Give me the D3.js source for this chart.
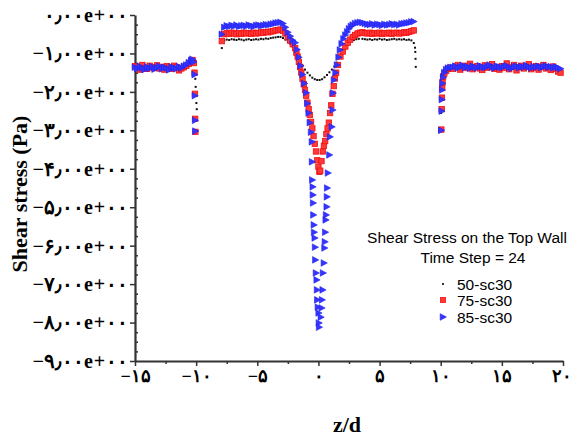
<!DOCTYPE html>
<html><head><meta charset="utf-8">
<script src="https://cdn.jsdelivr.net/npm/d3@7/dist/d3.min.js"></script>
<style>body{margin:0;background:#fff}svg{display:block}</style>
</head><body>
<svg id="c" width="572" height="437"></svg>
<script>
// ---------- DATA ----------
const seriesNames = ["50-sc30", "75-sc30", "85-sc30"];
const legendTitle = ["Shear Stress on the Top Wall", "Time Step = 24"];
const xTicks = [-15, -10, -5, 0, 5, 10, 15, 20];
const xTickLabels = ["−۱۵", "−۱۰", "−۵", "۰", "۵", "۱۰", "۱۵", "۲۰"];
const yTicks = [0, -1, -2, -3, -4, -5, -6, -7, -8, -9];
const yTickLabels = ["۰٫۰۰e+۰۰", "−۱٫۰۰e+۰۰", "−۲٫۰۰e+۰۰", "−۳٫۰۰e+۰۰", "−۴٫۰۰e+۰۰",
  "−۵٫۰۰e+۰۰", "−۶٫۰۰e+۰۰", "−۷٫۰۰e+۰۰", "−۸٫۰۰e+۰۰", "−۹٫۰۰e+۰۰"];

// upstream region (shared z)
const zLeft = [-15.0,-14.8,-14.6,-14.4,-14.2,-14.0,-13.8,-13.6,-13.4,-13.2,-13.0,-12.8,-12.6,-12.4,-12.2,-12.0,-11.8,-11.6,-11.4,-11.2,-11.0,-10.8,-10.6,-10.4,-10.3,-10.2];
const left50 = [-1.39,-1.38,-1.40,-1.38,-1.39,-1.40,-1.38,-1.39,-1.40,-1.38,-1.39,-1.38,-1.40,-1.39,-1.38,-1.40,-1.39,-1.38,-1.39,-1.40,-1.37,-1.34,-1.28,-1.22,-1.20,-1.28];
const left75 = [-1.33,-1.37,-1.42,-1.30,-1.38,-1.40,-1.32,-1.36,-1.38,-1.31,-1.39,-1.35,-1.42,-1.33,-1.37,-1.40,-1.32,-1.36,-1.44,-1.39,-1.36,-1.32,-1.27,-1.20,-1.17,-1.25];
const left85 = [-1.36,-1.40,-1.33,-1.38,-1.42,-1.35,-1.39,-1.34,-1.41,-1.37,-1.33,-1.40,-1.36,-1.38,-1.43,-1.35,-1.37,-1.40,-1.34,-1.38,-1.33,-1.30,-1.24,-1.18,-1.15,-1.22];

// drop at z ≈ -10
const dropLZ50 = [-10.1,-10.07,-10.04,-10.01,-9.98,-9.95];
const dropL50 = [-1.50,-1.66,-1.87,-2.08,-2.29,-2.45];
const dropLZ75 = [-10.13,-10.1,-10.08,-10.06];
const dropL75 = [-1.50,-2.05,-2.70,-3.04];
const dropLZ85 = [-10.12,-10.1,-10.08,-10.06];
const dropL85 = [-1.55,-2.10,-2.74,-3.02];

// middle region, left flat part (shared z)
const zMidL = [-7.9,-7.7,-7.5,-7.3,-7.1,-6.9,-6.7,-6.5,-6.3,-6.1,-5.9,-5.7,-5.5,-5.3,-5.1,-4.9,-4.7,-4.5,-4.3,-4.1,-3.9,-3.7,-3.5,-3.3,-3.1,-2.9,-2.7,-2.5,-2.3,-2.1];
const midL50 = [-0.86,-0.66,-0.64,-0.65,-0.63,-0.64,-0.65,-0.63,-0.64,-0.66,-0.64,-0.63,-0.65,-0.64,-0.63,-0.64,-0.62,-0.63,-0.61,-0.62,-0.60,-0.59,-0.58,-0.57,-0.57,-0.60,-0.64,-0.69,-0.75,-0.83];
const midL75 = [-0.68,-0.50,-0.47,-0.49,-0.46,-0.48,-0.50,-0.47,-0.49,-0.46,-0.48,-0.47,-0.49,-0.46,-0.48,-0.47,-0.45,-0.46,-0.44,-0.45,-0.43,-0.42,-0.40,-0.39,-0.38,-0.41,-0.48,-0.58,-0.67,-0.76];
const midL85 = [-0.50,-0.32,-0.28,-0.30,-0.27,-0.29,-0.26,-0.30,-0.28,-0.27,-0.29,-0.26,-0.28,-0.30,-0.27,-0.26,-0.28,-0.27,-0.25,-0.26,-0.24,-0.23,-0.21,-0.20,-0.19,-0.22,-0.32,-0.45,-0.55,-0.66];

// central dip (per series)
const dipZ50 = [-1.9,-1.7,-1.5,-1.3,-1.1,-0.9,-0.7,-0.5,-0.3,-0.1,0.1,0.3,0.5,0.7,0.9,1.1,1.3,1.5,1.7,1.9,2.1,2.3,2.5,2.7,2.9,3.1,3.3];
const dip50 = [-0.95,-1.08,-1.20,-1.32,-1.42,-1.50,-1.57,-1.63,-1.67,-1.69,-1.69,-1.67,-1.62,-1.56,-1.49,-1.42,-1.34,-1.24,-1.10,-0.97,-0.87,-0.79,-0.72,-0.68,-0.65,-0.63,-0.62];
const dipZ75 = [-1.9,-1.8,-1.7,-1.6,-1.5,-1.4,-1.3,-1.2,-1.1,-1.0,-0.9,-0.8,-0.7,-0.6,-0.5,-0.4,-0.3,-0.2,-0.1,0.0,0.08,0.15,0.25,0.35,0.45,0.55,0.65,0.75,0.85,0.95,1.05,1.15,1.25,1.35,1.45,1.6,1.8,2.0,2.2,2.4,2.6,2.8,3.0,3.2,3.4];
const dip75 = [-0.86,-0.98,-1.08,-1.22,-1.35,-1.50,-1.66,-1.80,-1.95,-2.10,-2.28,-2.45,-2.60,-2.78,-2.95,-3.15,-3.35,-3.55,-3.78,-3.95,-4.08,-4.05,-3.80,-3.55,-3.40,-3.28,-3.10,-2.95,-2.80,-2.55,-2.35,-2.05,-1.85,-1.65,-1.50,-1.30,-1.08,-0.95,-0.82,-0.72,-0.64,-0.57,-0.52,-0.48,-0.46];
const dipZ85 = [-1.9,-1.75,-1.6,-1.45,-1.3,-1.15,-1.0,-0.9,-0.8,-0.7,-0.6,-0.53,-0.52,-0.5,-0.46,-0.45,-0.43,-0.41,-0.37,-0.35,-0.3,-0.27,-0.25,-0.2,-0.14,-0.11,-0.09,-0.04,0.02,0.04,0.06,0.2,0.27,0.3,0.35,0.38,0.45,0.5,0.53,0.56,0.6,0.63,0.68,0.7,0.72,0.78,0.9,0.95,1.1,1.17,1.2,1.27,1.4,1.52,1.65,1.76,1.9,2.05,2.2,2.35,2.5,2.65,2.8,3.0,3.2,3.4];
const dip85 = [-0.72,-0.90,-1.10,-1.32,-1.55,-1.78,-2.02,-2.30,-2.55,-2.80,-3.05,-3.30,-3.82,-4.29,-4.47,-4.68,-4.89,-5.20,-5.46,-5.65,-5.80,-6.04,-6.37,-6.71,-6.89,-7.15,-7.41,-7.60,-7.75,-8.01,-8.12,-7.86,-7.62,-7.41,-7.15,-6.71,-6.45,-6.06,-5.90,-5.65,-5.33,-5.20,-4.99,-4.73,-4.50,-4.11,-3.64,-3.17,-2.91,-2.47,-2.03,-1.69,-1.50,-1.30,-1.10,-0.91,-0.75,-0.62,-0.52,-0.44,-0.36,-0.30,-0.26,-0.22,-0.20,-0.19];

// middle region, right flat part (shared z)
const zMidR = [3.6,3.8,4.0,4.2,4.4,4.6,4.8,5.0,5.2,5.4,5.6,5.8,6.0,6.2,6.4,6.6,6.8,7.0,7.2,7.4,7.6,7.8];
const midR50 = [-0.62,-0.63,-0.64,-0.63,-0.65,-0.63,-0.64,-0.62,-0.64,-0.63,-0.65,-0.64,-0.63,-0.62,-0.64,-0.63,-0.64,-0.63,-0.65,-0.64,-0.66,-0.73];
const midR75 = [-0.45,-0.47,-0.48,-0.46,-0.49,-0.47,-0.48,-0.46,-0.49,-0.47,-0.48,-0.46,-0.49,-0.47,-0.46,-0.48,-0.47,-0.45,-0.46,-0.44,-0.42,-0.40];
const midR85 = [-0.20,-0.22,-0.24,-0.25,-0.23,-0.26,-0.24,-0.25,-0.27,-0.24,-0.26,-0.25,-0.23,-0.25,-0.24,-0.26,-0.23,-0.22,-0.21,-0.20,-0.18,-0.17];

// drop at z ≈ 7.9 (black only visible)
const dropRZ50 = [7.9,7.92,7.94,7.96];
const dropR50 = [-0.85,-0.96,-1.14,-1.35];

// recovery at z ≈ 10
const riseZ50 = [10.03,10.05,10.1,10.2,10.4,10.6,10.8];
const rise50 = [-2.55,-2.42,-1.90,-1.60,-1.45,-1.40,-1.38];
const riseZ = [10.05,10.08,10.1,10.12,10.15,10.2,10.3,10.45,10.6,10.8];
const rise75 = [-2.98,-2.45,-2.15,-1.90,-1.75,-1.60,-1.52,-1.45,-1.40,-1.37];
const rise85 = [-3.00,-2.50,-2.20,-1.95,-1.78,-1.62,-1.50,-1.42,-1.38,-1.36];

// downstream region (shared z)
const zRight = [11.0,11.2,11.4,11.6,11.8,12.0,12.2,12.4,12.6,12.8,13.0,13.2,13.4,13.6,13.8,14.0,14.2,14.4,14.6,14.8,15.0,15.2,15.4,15.6,15.8,16.0,16.2,16.4,16.6,16.8,17.0,17.2,17.4,17.6,17.8,18.0,18.2,18.4,18.6,18.8,19.0,19.2,19.4,19.6,19.8];
const right50 = [-1.38,-1.39,-1.37,-1.38,-1.40,-1.38,-1.37,-1.39,-1.38,-1.38,-1.40,-1.37,-1.38,-1.39,-1.38,-1.37,-1.38,-1.39,-1.40,-1.38,-1.37,-1.38,-1.39,-1.38,-1.38,-1.37,-1.39,-1.38,-1.40,-1.38,-1.37,-1.38,-1.39,-1.38,-1.37,-1.38,-1.39,-1.38,-1.38,-1.40,-1.38,-1.37,-1.38,-1.39,-1.40];
const right75 = [-1.40,-1.34,-1.30,-1.42,-1.36,-1.32,-1.38,-1.27,-1.41,-1.35,-1.33,-1.39,-1.43,-1.31,-1.37,-1.34,-1.28,-1.40,-1.36,-1.42,-1.33,-1.38,-1.26,-1.41,-1.35,-1.30,-1.44,-1.36,-1.32,-1.39,-1.34,-1.28,-1.41,-1.37,-1.33,-1.42,-1.35,-1.30,-1.39,-1.36,-1.43,-1.34,-1.40,-1.47,-1.50];
const right85 = [-1.36,-1.33,-1.38,-1.35,-1.31,-1.37,-1.34,-1.39,-1.33,-1.36,-1.38,-1.32,-1.35,-1.37,-1.34,-1.30,-1.36,-1.38,-1.33,-1.35,-1.37,-1.34,-1.32,-1.36,-1.39,-1.35,-1.33,-1.37,-1.34,-1.36,-1.31,-1.35,-1.38,-1.34,-1.36,-1.33,-1.37,-1.35,-1.32,-1.36,-1.34,-1.38,-1.35,-1.37,-1.40];

// ---------- BUILD ----------
const zip = (zs, vs) => zs.slice(0, Math.min(zs.length, vs.length)).map((z, i) => ({z, v: vs[i]}));
const pts50 = [].concat(zip(zLeft,left50), zip(dropLZ50,dropL50), zip(zMidL,midL50), zip(dipZ50,dip50), zip(zMidR,midR50), zip(dropRZ50,dropR50), zip(riseZ50,rise50), zip(zRight,right50));
const pts75 = [].concat(zip(zLeft,left75), zip(dropLZ75,dropL75), zip(zMidL,midL75), zip(dipZ75,dip75), zip(zMidR,midR75), zip(riseZ,rise75), zip(zRight,right75));
const pts85 = [].concat(zip(zLeft,left85), zip(dropLZ85,dropL85), zip(zMidL,midL85), zip(dipZ85,dip85), zip(zMidR,midR85), zip(riseZ,rise85), zip(zRight,right85));

const svg = d3.select("#c");
const x = d3.scaleLinear().domain([-15, 20]).range([135, 563]);
const y = d3.scaleLinear().domain([-9, 0]).range([361, 15]);

const tickFont = "'Liberation Serif','Times New Roman',serif";
const axisColor = "#333";

// minor ticks
const yMinor = d3.range(-9, 0.001, 0.25).filter(v => Math.abs(v - Math.round(v)) > 1e-6);
svg.append("g").attr("transform", "translate(135,0)")
  .call(d3.axisLeft(y).tickValues(yMinor).tickSizeInner(-3).tickSizeOuter(0).tickFormat(""))
  .call(g => g.select(".domain").remove())
  .selectAll("line").attr("stroke", axisColor).attr("stroke-width", 1.5);
const xMinor = d3.range(-12.5, 20, 5);
svg.append("g").attr("transform", "translate(0,361)")
  .call(d3.axisBottom(x).tickValues(xMinor).tickSizeInner(3).tickSizeOuter(0).tickFormat(""))
  .call(g => g.select(".domain").remove())
  .selectAll("line").attr("stroke", axisColor).attr("stroke-width", 1.5);

// major axes
const yAxis = svg.append("g").attr("transform", "translate(135,0)")
  .call(d3.axisLeft(y).tickValues(yTicks).tickFormat((d, i) => yTickLabels[i]).tickSize(5).tickSizeOuter(0).tickPadding(2));
const xAxis = svg.append("g").attr("transform", "translate(0,361)")
  .call(d3.axisBottom(x).tickValues(xTicks).tickFormat((d, i) => xTickLabels[i]).tickSize(5).tickSizeOuter(0).tickPadding(3));
[yAxis, xAxis].forEach(g => {
  g.select(".domain").attr("stroke", axisColor).attr("stroke-width", 2.2);
  g.selectAll(".tick line").attr("stroke", axisColor).attr("stroke-width", 1.5);
  g.selectAll("text").attr("fill", "#000").style("font-family", tickFont).style("font-weight", "bold");
});
yAxis.selectAll("text").style("font-size", "20px").style("letter-spacing", "0.9px");
xAxis.selectAll("text").style("font-size", "18px");
// keep the last x label inside the picture
xAxis.selectAll(".tick").filter(d => d === 20).select("text").attr("text-anchor", "end").attr("x", 8);

// series
const gData = svg.append("g");
gData.selectAll("rect.s50").data(pts50).join("rect").attr("class", "s50")
  .attr("x", d => x(d.z) - 1).attr("y", d => y(d.v) - 1).attr("width", 2).attr("height", 2).attr("fill", "#111");
gData.selectAll("rect.s75").data(pts75).join("rect").attr("class", "s75")
  .attr("x", d => x(d.z) - 2.7).attr("y", d => y(d.v) - 2.7).attr("width", 5.4).attr("height", 5.4)
  .attr("fill", "#ff3a3a").attr("stroke", "#f01010").attr("stroke-width", 0.8);
const tri = "M-2.8,-3.3 L3.4,0 L-2.8,3.3 Z";
gData.selectAll("path.s85").data(pts85).join("path").attr("class", "s85")
  .attr("d", tri).attr("transform", d => `translate(${x(d.z)},${y(d.v)})`)
  .attr("fill", "#3535ff").attr("stroke", "#2020f0").attr("stroke-width", 0.6);

// axis titles
svg.append("text").attr("transform", "translate(27,194) rotate(-90)")
  .attr("text-anchor", "middle").style("font-family", tickFont).style("font-weight", "bold")
  .style("font-size", "22px").text("Shear stress (Pa)");
svg.append("text").attr("x", 347).attr("y", 432)
  .attr("text-anchor", "middle").style("font-family", tickFont).style("font-weight", "bold")
  .style("font-size", "22px").text("z/d");

// legend
const legFont = "'Liberation Sans',Arial,sans-serif";
svg.append("text").attr("x", 467).attr("y", 243).attr("text-anchor", "middle")
  .style("font-family", legFont).style("font-size", "15.5px").text(legendTitle[0]);
svg.append("text").attr("x", 473).attr("y", 263).attr("text-anchor", "middle")
  .style("font-family", legFont).style("font-size", "15.5px").text(legendTitle[1]);
const legY = [284, 300, 317];
seriesNames.forEach((n, i) => {
  svg.append("text").attr("x", 457).attr("y", legY[i] + 5.5)
    .style("font-family", legFont).style("font-size", "15.5px").text(n);
});
svg.append("rect").attr("x", 442).attr("y", legY[0] - 1).attr("width", 2).attr("height", 2).attr("fill", "#333");
svg.append("rect").attr("x", 440.5).attr("y", legY[1] - 2.5).attr("width", 5).attr("height", 5)
  .attr("fill", "#ff3a3a").attr("stroke", "#f01010").attr("stroke-width", 0.8);
svg.append("path").attr("d", tri).attr("transform", `translate(443,${legY[2]})`)
  .attr("fill", "#3535ff").attr("stroke", "#2020f0").attr("stroke-width", 0.6);
</script>
</body></html>
